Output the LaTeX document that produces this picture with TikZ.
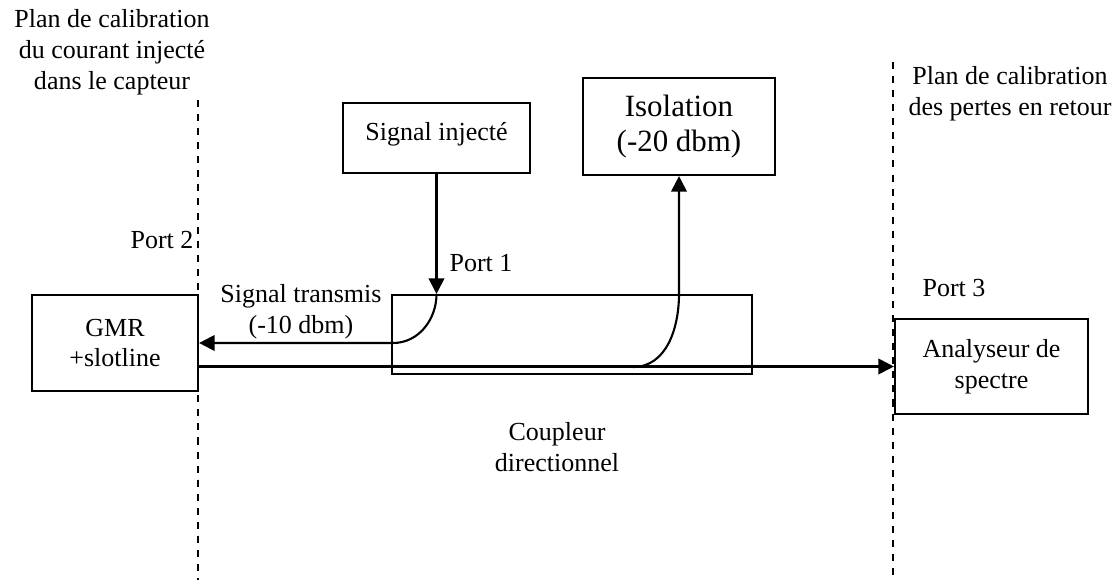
\documentclass[tikz,border=0pt]{standalone}
\usepackage{fontspec}
\setmainfont{Liberation Serif}
\usetikzlibrary{arrows.meta,positioning}

\tikzset{
  bloc/.style={draw, line width=1.5pt, inner sep=0pt, align=center,
    font=\fontsize{18.5}{22}\selectfont},
  lbl/.style={align=center, inner sep=0pt, font=\fontsize{18.5}{22}\selectfont},
  plan/.style={line width=1.5pt, dash pattern=on 5pt off 5pt},
  fleche/.style={line width=1.5pt, -{Triangle[length=11pt,width=11pt]}}
}

\begin{document}
\begin{tikzpicture}[x=0.025cm,y=-0.025cm]
  \useasboundingbox (0,0) rectangle (1120,580);
  \node[bloc, minimum width=4.15cm, minimum height=2.4cm] (gmr) at (115,343) {GMR\\+slotline};
  \node[bloc, minimum width=9cm, minimum height=1.975cm] (coupler) at (572,334.5) {};
  \node[bloc, minimum width=4.675cm, minimum height=1.75cm] (sig) at (436.5,138) {Signal inject\'e\\[-13pt]};
  \node[bloc, minimum width=4.8cm, minimum height=2.425cm,
    font=\fontsize{22}{25.5}\selectfont] (iso) at (679,126.5) {Isolation\\(-20 dbm)};
  \node[bloc, minimum width=4.825cm, minimum height=2.375cm] (ana) at (991.5,366.5) {Analyseur de\\spectre};
  \node[lbl] (plang) at (112,52) {Plan de calibration\\du courant inject\'e\\dans le capteur};
  \node[lbl] (pland) at (1010,94) {Plan de calibration\\des pertes en retour};
  \node[lbl] (port2) at (162,240) {Port 2};
  \node[lbl] (port1) at (481,263) {Port 1};
  \node[lbl] (port3) at (954,288) {Port 3};
  \node[lbl] (trans) at (301,312) {Signal transmis\\(-10 dbm)};
  \node[lbl] (coupl) at (557,447) {Coupleur\\directionnel};
  \coordinate (g1) at (198,100);
  \coordinate (g2) at (198,580);
  \coordinate (d1) at (893,62);
  \coordinate (d2) at (893,580);
  \draw[plan] (g1) -- (g2);
  \draw[plan] (d1) -- (d2);
  \coordinate (p1) at (sig.south |- coupler.north);
  \coordinate (tr) at (393,343);
  \coordinate (dep) at (633,367);
  \coordinate (p4) at (iso.south |- coupler.north);
  \draw[fleche] (sig.south) -- (p1);
  \draw[fleche] (p1) to[out=-90,in=0] (tr) -- (tr -| gmr.east);
  \draw[fleche] (gmr.east |- ana.west) -- (ana.west);
  \draw[fleche] (dep) to[out=0,in=-90] (p4) -- (iso.south);
\end{tikzpicture}
\end{document}
